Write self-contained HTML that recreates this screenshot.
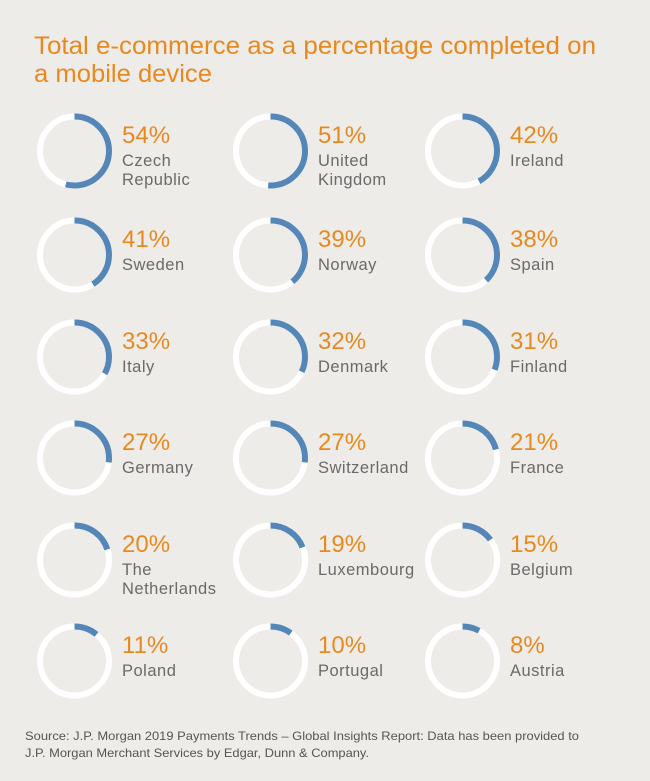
<!DOCTYPE html>
<html><head><meta charset="utf-8"><style>
html,body{margin:0;padding:0;background:#eeece9;}
svg{display:block}
.t{font-family:"Liberation Sans",sans-serif;fill:#e8891e;font-size:25px}
.p{font-family:"Liberation Sans",sans-serif;fill:#e8891e;font-size:24px}
.c{font-family:"Liberation Sans",sans-serif;fill:#6a6a6a;font-size:16.5px;letter-spacing:0.5px}
.s{font-family:"Liberation Sans",sans-serif;fill:#555;font-size:12px}
</style></head><body>
<svg width="650" height="781" viewBox="0 0 650 781" xmlns="http://www.w3.org/2000/svg">
<rect width="650" height="781" fill="#eeece9"/>
<text class="t" x="34" y="54" textLength="562" lengthAdjust="spacingAndGlyphs">Total e-commerce as a percentage completed on</text>
<text class="t" x="34" y="82" textLength="178" lengthAdjust="spacingAndGlyphs">a mobile device</text>
<g id="g"></g>
<text class="s" x="25" y="740" textLength="554" lengthAdjust="spacingAndGlyphs">Source: J.P. Morgan 2019 Payments Trends – Global Insights Report: Data has been provided to</text>
<text class="s" x="25" y="757" textLength="344" lengthAdjust="spacingAndGlyphs">J.P. Morgan Merchant Services by Edgar, Dunn &amp; Company.</text>
</svg>
<script>
var d=[[54,"Czech","Republic"],[51,"United","Kingdom"],[42,"Ireland"],[41,"Sweden"],[39,"Norway"],[38,"Spain"],[33,"Italy"],[32,"Denmark"],[31,"Finland"],[27,"Germany"],[27,"Switzerland"],[21,"France"],[20,"The","Netherlands"],[19,"Luxembourg"],[15,"Belgium"],[11,"Poland"],[10,"Portugal"],[8,"Austria"]];
var cx=[74.5,270.5,462.5],cy=[151,255,357,458,560,661],tx=[122,318,510];
var C=2*Math.PI*34.5,h="";
d.forEach(function(e,i){var c=i%3,r=Math.floor(i/3),x=cx[c],y=cy[r];
h+='<circle cx="'+x+'" cy="'+y+'" r="34.5" fill="none" stroke="#fff" stroke-width="6"/>';
h+='<circle cx="'+x+'" cy="'+y+'" r="34.5" fill="none" stroke="#5586b8" stroke-width="6" stroke-dasharray="'+(C*e[0]/100)+' '+C+'" transform="rotate(-90 '+x+' '+y+')"/>';
h+='<text class="p" x="'+tx[c]+'" y="'+(y-8)+'">'+e[0]+'%</text>';
h+='<text class="c" x="'+tx[c]+'" y="'+(y+15)+'">'+e[1]+'</text>';
if(e[2])h+='<text class="c" x="'+tx[c]+'" y="'+(y+34)+'">'+e[2]+'</text>';});
document.getElementById('g').innerHTML=h;
</script>
</body></html>
